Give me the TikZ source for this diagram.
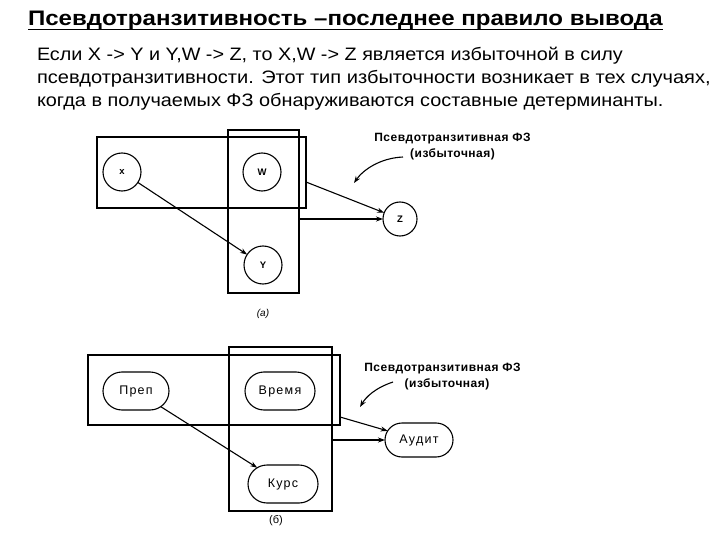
\documentclass[tikz,border=0pt]{standalone}
\usepackage{fontspec}
\setmainfont{Liberation Sans}
\setsansfont{Liberation Sans}
\newfontfamily\spacedfont[LetterSpace=10]{Liberation Sans}
\newfontfamily\lblfont[LetterSpace=4]{Liberation Sans}
\usetikzlibrary{arrows.meta,shapes.misc}
\tikzset{
  every node/.style={inner sep=0pt, outer sep=0pt},
  circ/.style={draw, circle, line width=1.1pt, minimum size=38pt, font=\fontsize{9.5}{10}\selectfont\bfseries},
  pill/.style={draw, rounded rectangle, line width=1.1pt, minimum width=68pt, minimum height=38pt, font=\fontsize{12.5}{14}\spacedfont},
  conn/.style={line width=1.1pt, -{Stealth[length=7pt,width=5pt]}},
  lbl/.style={font=\fontsize{12}{14}\lblfont\bfseries},
  body/.style={anchor=base west, font=\fontsize{18}{20}\selectfont},
}
\begin{document}
\begin{tikzpicture}[x=1pt,y=-1pt]
\useasboundingbox (0,0) rectangle (720,540);
% title
\node[anchor=base west, font=\fontsize{21}{24}\selectfont\bfseries] (T) at (28,26) {\scalebox{1.145}[1]{Псевдотранзитивность –последнее правило вывода}};
\draw[line width=1.8pt] ([yshift=-3.5pt]T.base west) -- ([yshift=-3.5pt]T.base east);
\node[body] (L1) at (37,61) {\scalebox{1.100}[1]{Если X -> Y и Y,W -> Z, то X,W -> Z является избыточной в силу}};
\node[body] (L2) at (37,84) {\scalebox{1.113}[1]{псевдотранзитивности. Этот тип избыточности возникает в тех случаях,}};
\node[body] (L3) at (37,107) {\scalebox{1.105}[1]{когда в получаемых ФЗ обнаруживаются составные детерминанты.}};
% diagram (a)
\node[draw, line width=1.4pt, minimum width=209pt, minimum height=71pt] (Ha) at (201.5,172.5) {};
\node[draw, line width=1.4pt, minimum width=71pt, minimum height=163pt] (Va) at (263.5,211.5) {};
\node[circ] (X) at (122,172) {x};
\node[circ] (W) at (262,172) {W};
\node[circ] (Y) at (263,265) {Y};
\node[circ, minimum size=34pt] (Z) at (400,219) {Z};
\draw[conn] (X) -- (Y);
\draw[conn] ([yshift=-9.5pt]Ha.east) -- (Z);
\draw[conn] (Va.east |- Z) -- (Z);
\node[lbl] (La1) at (452.5,139) {Псевдотранзитивная ФЗ};
\node[lbl] (La2) at (452.5,154) {(избыточная)};
\coordinate (ca) at (403,157);
\coordinate (ea) at (354,183);
\draw[conn] (ca) .. controls (380,158) and (363,170) .. (ea);
\node[font=\fontsize{10}{12}\selectfont\itshape] (capa) at (263,314) {(a)};
% diagram (b)
\node[draw, line width=1.4pt, minimum width=252pt, minimum height=70pt] (Hb) at (214,390) {};
\node[draw, line width=1.4pt, minimum width=103pt, minimum height=164pt] (Vb) at (280.5,429) {};
\node[pill, minimum width=66pt] (P) at (136,391) {Преп};
\node[pill, minimum width=70pt] (B) at (280,391) {Время};
\node[pill, minimum width=70pt] (K) at (283,484) {Курс};
\node[pill, minimum width=68pt, minimum height=34pt] (A) at (419,440) {Аудит};
\draw[conn] (P) -- (K);
\draw[conn] ([yshift=-27pt]Hb.east) -- (A);
\draw[conn] (Vb.east |- A) -- (A);
\node[lbl] (Lb1) at (442.5,369) {Псевдотранзитивная ФЗ};
\node[lbl] (Lb2) at (447,384) {(избыточная)};
\coordinate (cb) at (393,382);
\coordinate (eb) at (360,407);
\draw[conn] (cb) .. controls (375,388) and (366,397) .. (eb);
\node[font=\fontsize{11}{12}\selectfont] (capb) at (276,521) {(б)};
\end{tikzpicture}
\end{document}
